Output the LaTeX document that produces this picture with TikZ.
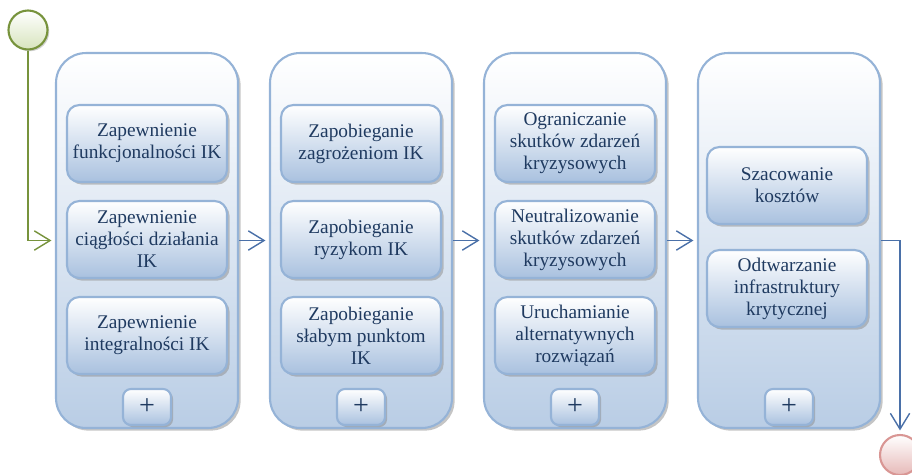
\documentclass[tikz,border=0pt]{standalone}
\usepackage{fontspec}
\setmainfont{Liberation Serif}
\usetikzlibrary{positioning,arrows.meta,shadows}
\definecolor{phaseedge}{HTML}{95B3D7}
\definecolor{phasebot}{HTML}{B9CDE5}
\definecolor{taskbot}{HTML}{A9C1DF}
\definecolor{inktext}{HTML}{1F3A60}
\definecolor{flowline}{HTML}{4A70A8}
\definecolor{startedge}{HTML}{77933C}
\definecolor{startbot}{HTML}{D7E4BD}
\definecolor{endedge}{HTML}{D99694}
\definecolor{endbot}{HTML}{E6B9B8}

\begin{document}
\begin{tikzpicture}[x=0.02cm,y=-0.02cm,
    every node/.style={font=\fontsize{11}{12.5}\selectfont,text=inktext},
    phase/.style={draw=phaseedge,line width=1.2pt,rounded corners=17pt,
      top color=white,bottom color=phasebot,minimum width=3.64cm,minimum height=7.5cm,
      drop shadow={shadow xshift=1.5pt,shadow yshift=-1.5pt,fill=black!45}},
    task/.style={draw=phaseedge,line width=1.2pt,rounded corners=7pt,
      top color=white,bottom color=taskbot,minimum width=3.2cm,minimum height=1.54cm,
      align=center,inner sep=0pt,
      drop shadow={shadow xshift=1.5pt,shadow yshift=-1.5pt,fill=black!45}},
    plusbox/.style={draw=phaseedge,line width=1.2pt,rounded corners=4.5pt,
      top color=white,bottom color=taskbot,minimum width=0.96cm,minimum height=0.72cm,
      inner sep=0pt,font=\fontsize{16}{16}\selectfont,
      drop shadow={shadow xshift=1.2pt,shadow yshift=-1.2pt,fill=black!45}},
    startev/.style={circle,draw=startedge,line width=1.2pt,minimum size=0.78cm,
      top color=white,bottom color=startbot,
      drop shadow={shadow xshift=1pt,shadow yshift=-1pt,fill=black!35}},
    endev/.style={circle,draw=endedge,line width=1.2pt,minimum size=0.8cm,
      top color=white,bottom color=endbot},
    flow/.style={flowline,line width=0.8pt,-{Straight Barb[length=9pt,width=11pt]},shorten >=2pt},
    startflow/.style={flow,startedge},
  ]
  \clip (0,0) rectangle (912,474);

  % phases with their collapse marker
  \foreach \i in {1,...,4} {
    \pgfmathsetmacro{\xx}{147+214*(\i-1)}
    \node[phase] (ph\i) at (\xx,240.5) {};
    \node[plusbox] (pl\i) at (\xx,407) {+};
  }

  % tasks
  \foreach \nm/\xx/\yy/\txt in {
      t11/147/143.5/{Zapewnienie\\funkcjonalności IK},
      t12/147/239.5/{Zapewnienie\\ciągłości działania\\IK},
      t13/147/335.5/{Zapewnienie\\integralności IK},
      t21/361/143.5/{Zapobieganie\\zagrożeniom IK},
      t22/361/239.5/{Zapobieganie\\ryzykom IK},
      t23/361/335.5/{Zapobieganie\\słabym punktom\\IK},
      t31/575/143.5/{Ograniczanie\\skutków zdarzeń\\kryzysowych},
      t32/575/239.5/{Neutralizowanie\\skutków zdarzeń\\kryzysowych},
      t33/575/335.5/{Uruchamianie\\alternatywnych\\rozwiązań},
      t41/787/185.5/{Szacowanie\\kosztów},
      t42/787/288.5/{Odtwarzanie\\infrastruktury\\krytycznej}} {
    \node[task] (\nm) at (\xx,\yy) {\txt};
  }

  % events and flow
  \node[startev] (start) at (28,30) {};
  \node[endev] (stop) at (900,455) {};
  \draw[startflow] (start.south) |- (ph1.west);
  \foreach \i/\j in {1/2,2/3,3/4} {
    \draw[flow] (ph\i.east) -- (ph\j.west);
  }
  \draw[flow] (ph4.east) -| (stop.north);
\end{tikzpicture}
\end{document}
